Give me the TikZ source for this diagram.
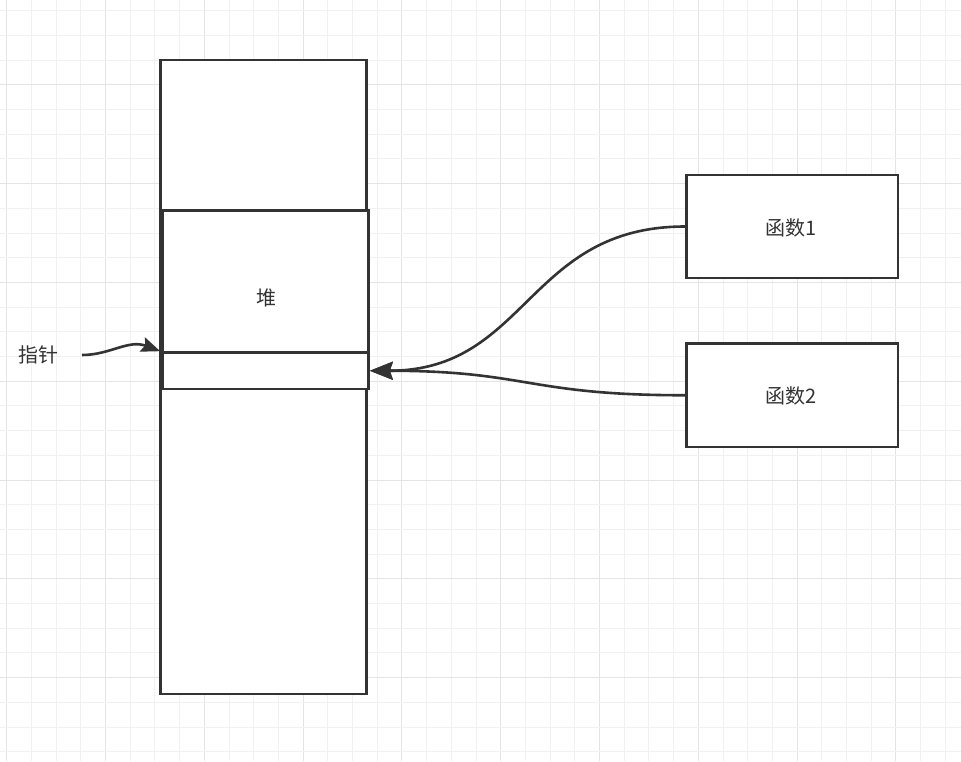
\documentclass[tikz,border=0pt]{standalone}
\usepackage{fontspec}
\newfontfamily\cjk{Noto Sans CJK SC}
\usetikzlibrary{arrows.meta}
\definecolor{ink}{HTML}{333333}
\definecolor{gminor}{HTML}{F1F1F1}
\definecolor{gmajor}{HTML}{E4E4E4}
\tikzset{
  box/.style={draw=ink, fill=white, line width=2.6pt, rectangle, inner sep=0pt},
  lbl/.style={text=ink, font=\cjk\fontsize{20}{23}\selectfont, inner sep=0pt},
  conn/.style={draw=ink, line width=2.6pt},
  bigtip/.style={-{Stealth[length=23pt,width=18pt,inset=3pt]}},
  smalltip/.style={-{Stealth[length=19pt,width=15pt,inset=3pt]}},
  gridminor/.style={draw=gminor, line width=1pt},
  gridmajor/.style={draw=gmajor, line width=1pt},
}
\begin{document}
\begin{tikzpicture}[x=1pt,y=-1pt]
\useasboundingbox (0,0) rectangle (961,761);
\fill[white] (0,0) rectangle (961,761);
% grid
\foreach \i in {0,...,38} {
  \pgfmathtruncatemacro{\m}{mod(\i,4)}
  \ifnum\m=0
    \draw[gridmajor] ({6.7+24.7*\i},0) -- ({6.7+24.7*\i},761);
  \else
    \draw[gridminor] ({6.7+24.7*\i},0) -- ({6.7+24.7*\i},761);
  \fi
}
\foreach \i in {0,...,30} {
  \pgfmathtruncatemacro{\m}{mod(\i,4)}
  \ifnum\m=3
    \draw[gridmajor] (0,{10.7+24.7*\i}) -- (961,{10.7+24.7*\i});
  \else
    \draw[gridminor] (0,{10.7+24.7*\i}) -- (961,{10.7+24.7*\i});
  \fi
}
% stack and heap
\node[box, minimum width=206pt, minimum height=634pt] (stack) at (263.6,377) {};
\node[box, minimum width=206pt, minimum height=178.5pt] (heap) at (265.5,299.75) {};
\node[box, minimum width=206pt, minimum height=36.5pt] (slot) at (265.5,370.75) {};
\node[lbl] (heaplbl) at (266,298) {堆};
% functions
\node[box, minimum width=211.5pt, minimum height=103pt] (f1) at (792.25,226.5) {};
\node[lbl] (f1lbl) at (791,228) {函数1};
\node[box, minimum width=211.5pt, minimum height=103.5pt] (f2) at (792.25,395.25) {};
\node[lbl] (f2lbl) at (791,396) {函数2};
% pointer
\node[lbl] (ptr) at (38,355) {指针};
\coordinate (p0) at (82,355);
\draw[conn, smalltip] (p0) .. controls +(28,0) and +(-32,-12) .. ([xshift=-1pt]slot.north west);
% connectors
\draw[conn, bigtip] (f1.west) .. controls +(-158,0) and +(158,0) .. (slot.east);
\draw[conn, bigtip] (f2.west) .. controls +(-158,0) and +(158,0) .. (slot.east);
\end{tikzpicture}
\end{document}
